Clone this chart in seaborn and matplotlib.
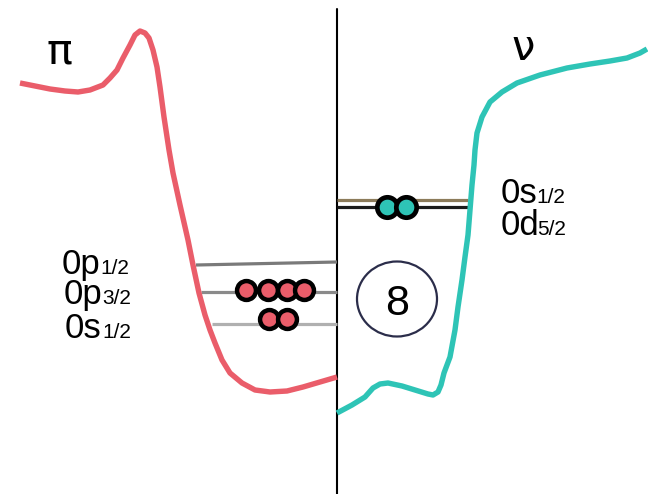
import matplotlib
matplotlib.use("Agg")
import matplotlib.pyplot as plt
from matplotlib.patches import Ellipse
import seaborn as sns
import pandas as pd

sns.set_theme(style="white")
plt.rcParams['font.family'] = ['Liberation Sans', 'DejaVu Sans']
plt.rcParams['text.color'] = 'black'

# ---- data (schematic coordinates) ----
proton_x = [20, 35, 50, 65, 78, 90, 103, 110, 117, 123, 130, 135, 140, 145, 149, 153, 157, 160, 164,
            169, 173, 180, 188, 193, 199, 205, 210, 215, 222, 230, 242, 255, 270, 287, 303, 320, 337]
proton_y = [83, 86, 89, 91, 92, 90, 85, 78, 70, 58, 45, 35, 31, 33, 38, 50, 67, 87, 117,
            150, 173, 205, 240, 265, 293, 315, 330, 343, 360, 373, 383, 390, 392, 391, 387, 382, 377]

neutron_x = [337, 352, 365, 373, 380, 388, 402, 415, 428, 433, 438, 441, 444, 450, 455, 458, 462,
             465, 468, 470, 472, 474, 475, 477, 482, 490, 502, 517, 540, 567, 590, 610, 627,
             640, 647]
neutron_y = [413, 405, 397, 388, 384, 383, 386, 390, 394, 395, 392, 385, 373, 357, 330, 307, 280,
             257, 235, 210, 185, 165, 150, 133, 117, 102, 92, 83, 75, 68, 64, 61, 58,
             53, 49]

# proton levels
p_levels = ["0p1/2", "0p3/2", "0s1/2"]
p_level_x0 = [196, 201, 212]
p_level_y0 = [265, 292, 324]
p_level_y1 = [262, 292, 324]
p_level_colors = ["#7a7a7a", "#8a8a8a", "#b0b0b0"]

# neutron levels
n_levels = ["0s1/2", "0d5/2"]
n_level_x1 = [468, 468]
n_level_y = [200, 207]
n_level_colors = ["#8c7b5a", "#1a1a1a"]

# nucleons
p_dot_x = [246, 268, 287, 304, 269, 287]
p_dot_y = [290, 290, 290, 290, 319, 319]
n_dot_x = [387, 406]
n_dot_y = [207, 207]

RED = "#ea5d6a"
TEAL = "#2ec4b6"

fig = plt.figure(figsize=(6.48, 4.94), dpi=100)
ax = fig.add_axes([0, 0, 1, 1])

# center line
ax.plot([337, 337], [9, 494], color="black", lw=1.5, zorder=1)

# levels
for x0, y0, y1, c in zip(p_level_x0, p_level_y0, p_level_y1, p_level_colors):
    ax.plot([x0, 337], [y0, y1], color=c, lw=2.3, solid_capstyle='butt', zorder=2)
for y, x1, c in zip(n_level_y, n_level_x1, n_level_colors):
    ax.plot([337, x1], [y, y], color=c, lw=2.3, solid_capstyle='butt', zorder=2)

# potentials
dfp = pd.DataFrame({"x": proton_x, "y": proton_y})
dfn = pd.DataFrame({"x": neutron_x, "y": neutron_y})
sns.lineplot(data=dfp, x="x", y="y", sort=False, color=RED, lw=3.9, ax=ax, zorder=3,
             solid_capstyle='butt', solid_joinstyle='round')
sns.lineplot(data=dfn, x="x", y="y", sort=False, color=TEAL, lw=3.9, ax=ax, zorder=3,
             solid_capstyle='butt', solid_joinstyle='round')

# nucleons
sns.scatterplot(x=p_dot_x, y=p_dot_y, s=185, color=RED, edgecolor="black", linewidth=3.2,
                ax=ax, zorder=5, legend=False)
sns.scatterplot(x=n_dot_x, y=n_dot_y, s=215, color=TEAL, edgecolor="black", linewidth=3.4,
                ax=ax, zorder=5, legend=False)
ax.set_xlim(0, 648)
ax.set_ylim(494, 0)
ax.axis('off')

# labels
ax.text(46, 63, "π", fontsize=31, family=['DejaVu Sans'], va='baseline', ha='left', color='black')
ax.text(511, 60, "ν", fontsize=30, family=['DejaVu Sans'], va='baseline', ha='left', color='black')

BIG = 25
SMALL = 15
left_lab = [("0p", "1/2", 62, 100, 274), ("0p", "3/2", 64, 102, 304), ("0s", "1/2", 65, 102, 338)]
for main, sub, xm, xs, yb in left_lab:
    ax.text(xm, yb, main, fontsize=BIG, va='baseline', ha='left', color='black')
    ax.text(xs, yb, sub, fontsize=SMALL, va='baseline', ha='left', color='black')
right_lab = [("0s", "1/2", 501, 536, 203), ("0d", "5/2", 501, 537, 235)]
for main, sub, xm, xs, yb in right_lab:
    ax.text(xm, yb, main, fontsize=BIG, va='baseline', ha='left', color='black')
    ax.text(xs, yb, sub, fontsize=SMALL, va='baseline', ha='left', color='black')

# magic number
ax.add_patch(Ellipse((397, 299), 80, 75, fill=False, edgecolor="#2b2d4a", lw=1.6, zorder=4))
ax.text(397, 299, "8", fontsize=31, ha='center', va='center_baseline', zorder=5, color='black')

fig.savefig("out.png", dpi=100)
